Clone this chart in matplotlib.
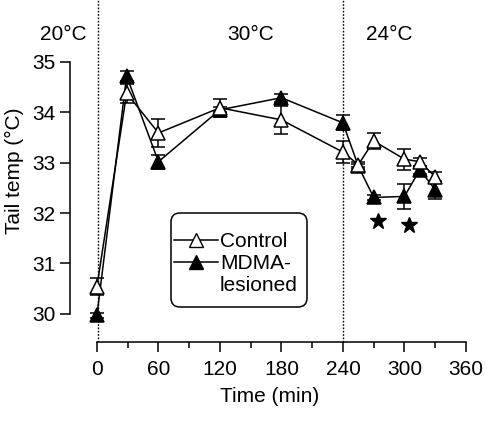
import matplotlib.pyplot as plt
from matplotlib.lines import Line2D
from matplotlib.patches import FancyBboxPatch
from matplotlib.transforms import IdentityTransform

plt.rcParams['font.family'] = ['Liberation Sans', 'DejaVu Sans']

# time points (min)
time_min = [0, 29, 60, 120, 180, 240, 255, 270, 300, 315, 330]

# Control group
control_temp = [30.54, 34.38, 33.59, 34.09, 33.85, 33.21, 32.96, 33.43, 33.07, 33.02, 32.72]
control_err = [0.17, 0.19, 0.28, 0.18, 0.28, 0.22, 0.05, 0.16, 0.21, 0.08, 0.10]

# MDMA-lesioned group
mdma_temp = [29.97, 34.72, 33.02, 34.05, 34.29, 33.79, 32.93, 32.31, 32.33, 32.86, 32.46]
mdma_err = [0.05, 0.10, 0.14, 0.05, 0.08, 0.15, 0.05, 0.05, 0.25, 0.08, 0.18]

# significance stars
star_time = [274, 304]
star_temp = [31.85, 31.77]

# ambient temperature phases
phase_labels = ['20°C', '30°C', '24°C']
phase_x = [-33, 150, 285]
phase_change = [1.5, 240]

W, H = 487, 422
fig = plt.figure(figsize=(W / 100, H / 100), dpi=100)
ax = fig.add_axes([0.1443, 0.1896, 0.8167, 0.8104])

ax.errorbar(time_min, control_temp, yerr=control_err, color='black', lw=1.1,
            marker='^', ms=10, mfc='white', mec='black', mew=1.1,
            capsize=5, capthick=1.1, elinewidth=1.1, zorder=3)
ax.errorbar(time_min, mdma_temp, yerr=mdma_err, color='black', lw=1.1,
            marker='^', ms=10, mfc='black', mec='black', mew=1.1,
            capsize=5, capthick=1.1, elinewidth=1.1, zorder=2)
ax.plot(star_time, star_temp, ls='none', marker='*', ms=12, color='black')

for xc in phase_change:
    ax.axvline(xc, ymin=0, ymax=1, color='black', ls=(0, (1.2, 1.2)), lw=1)
for lab, xp in zip(phase_labels, phase_x):
    ax.text(xp, 35.55, lab, fontsize=15, ha='center', va='center')

ax.set_xlim(-26, 362)
ax.set_ylim(29.44, 36.23)
ax.spines['top'].set_visible(False)
ax.spines['right'].set_visible(False)
ax.spines['left'].set_bounds(30, 35)
ax.spines['bottom'].set_bounds(0, 360)
ax.spines['left'].set_linewidth(1.1)
ax.spines['bottom'].set_linewidth(1.1)
ax.set_yticks([30, 31, 32, 33, 34, 35])
ax.set_xticks([0, 60, 120, 180, 240, 300, 360])
ax.set_xticks([30, 90, 150, 210, 270, 330], minor=True)
ax.tick_params(axis='both', labelsize=15, width=1.1, length=7, direction='out')
ax.tick_params(axis='x', which='minor', width=1.1, length=4)
ax.tick_params(axis='x', pad=6)
ax.set_xlabel('Time (min)', fontsize=15, labelpad=6)
ax.set_ylabel('Tail temp (°C)', fontsize=15, labelpad=6)

# legend box (rounded frame drawn separately so padding can differ per side)
box = FancyBboxPatch((171, H - 307), 136, 94, boxstyle='round,pad=0,rounding_size=9',
                     transform=IdentityTransform(), fc='white', ec='black', lw=1.1)
fig.add_artist(box)

handles = [
    Line2D([], [], color='black', lw=1.1, marker='^', ms=10, mfc='white', mec='black'),
    Line2D([], [], color='black', lw=1.1, marker='^', ms=10, mfc='black', mec='black'),
    Line2D([], [], color='none'),
]
leg = fig.legend(handles, ['Control', 'MDMA-', 'lesioned'], loc='upper left',
                 bbox_to_anchor=(174 / W, 1 - 232 / H), borderaxespad=0, borderpad=0,
                 fontsize=15, handlelength=2.1, handletextpad=0.1,
                 labelspacing=0.15, frameon=False)

fig.savefig('out.png', dpi=100)
